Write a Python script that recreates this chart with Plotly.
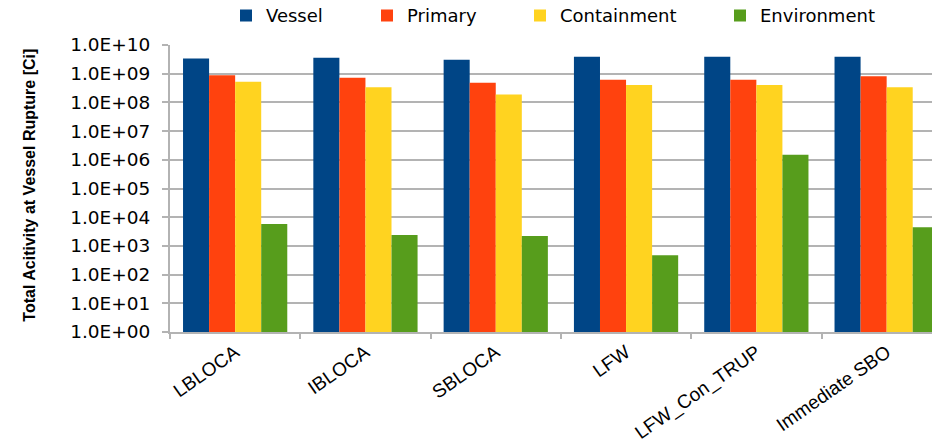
import plotly.graph_objects as go

# Accident scenarios and total activity per location at vessel rupture [Ci]
scenarios = ["LBLOCA", "IBLOCA", "SBLOCA", "LFW", "LFW_Con_TRUP", "Immediate SBO"]
vessel = [3.4e9, 3.6e9, 3.05e9, 3.9e9, 3.9e9, 3.9e9]
primary = [8.9e8, 7.2e8, 4.8e8, 6.1e8, 6.1e8, 8.2e8]
containment = [5.2e8, 3.4e8, 1.9e8, 4.0e8, 4.0e8, 3.4e8]
environment = [5.8e3, 2.4e3, 2.2e3, 4.7e2, 1.5e6, 4.5e3]

series_names = ["Vessel", "Primary", "Containment", "Environment"]
series_colors = ["#004586", "#ff420e", "#ffd320", "#579d1c"]
legend_widths = [96, 108, 155, 130]

y_tick_vals = [1e0, 1e1, 1e2, 1e3, 1e4, 1e5, 1e6, 1e7, 1e8, 1e9, 1e10]
y_tick_text = ["1.0E+00", "1.0E+01", "1.0E+02", "1.0E+03", "1.0E+04", "1.0E+05",
               "1.0E+06", "1.0E+07", "1.0E+08", "1.0E+09", "1.0E+10"]
y_title = "Total Acitivity at Vessel Rupture [Ci]"

FONT = "Liberation Sans, Arial, sans-serif"
WIDE_FONT = "DejaVu Sans, sans-serif"
GRID = "#b3b3b3"

fig = go.Figure()
for name, vals, color, lw in zip(series_names, [vessel, primary, containment, environment],
                                 series_colors, legend_widths):
    fig.add_trace(go.Bar(name=name, x=scenarios, y=vals, legendwidth=lw,
                         marker=dict(color=color, line=dict(width=0))))

fig.update_layout(
    width=932,
    height=445,
    margin=dict(l=170, r=0, t=45, b=113, autoexpand=False),
    paper_bgcolor="white",
    plot_bgcolor="white",
    barmode="group",
    bargap=0.2,
    bargroupgap=0,
    font=dict(family=FONT, color="#000000"),
    legend=dict(
        orientation="h",
        xref="container", yref="paper",
        x=226 / 932, y=1.102, xanchor="left", yanchor="middle",
        font=dict(family=WIDE_FONT, size=18, color="#000000"),
        itemwidth=30,
        bgcolor="rgba(0,0,0,0)",
    ),
    showlegend=True,
)

# Vertical axis title, placed left of the tick labels
fig.add_annotation(
    text="<b>" + y_title + "</b>",
    xref="paper", yref="paper",
    x=-140 / 762, y=0.51,
    xanchor="center", yanchor="middle",
    textangle=-90, showarrow=False,
    font=dict(family=FONT, size=16, color="#000000"),
)

fig.update_xaxes(
    type="category",
    range=[-0.5, 5.348],
    showline=True, linecolor=GRID, linewidth=2,
    showgrid=False,
    ticks="outside", tickson="boundaries", ticklen=5, tickcolor=GRID, tickwidth=2,
    tickangle=-35,
    tickfont=dict(family=FONT, size=19, color="#000000"),
)

fig.update_yaxes(
    type="log",
    range=[0, 10],
    tickvals=y_tick_vals,
    ticktext=y_tick_text,
    showline=True, linecolor=GRID, linewidth=2,
    showgrid=True, gridcolor=GRID, gridwidth=2,
    ticks="outside", ticklen=6, tickcolor=GRID, tickwidth=2,
    ticklabelstandoff=8,
    tickfont=dict(family=WIDE_FONT, size=18.5, color="#000000"),
    zeroline=False,
)

fig.write_html("out.html")
